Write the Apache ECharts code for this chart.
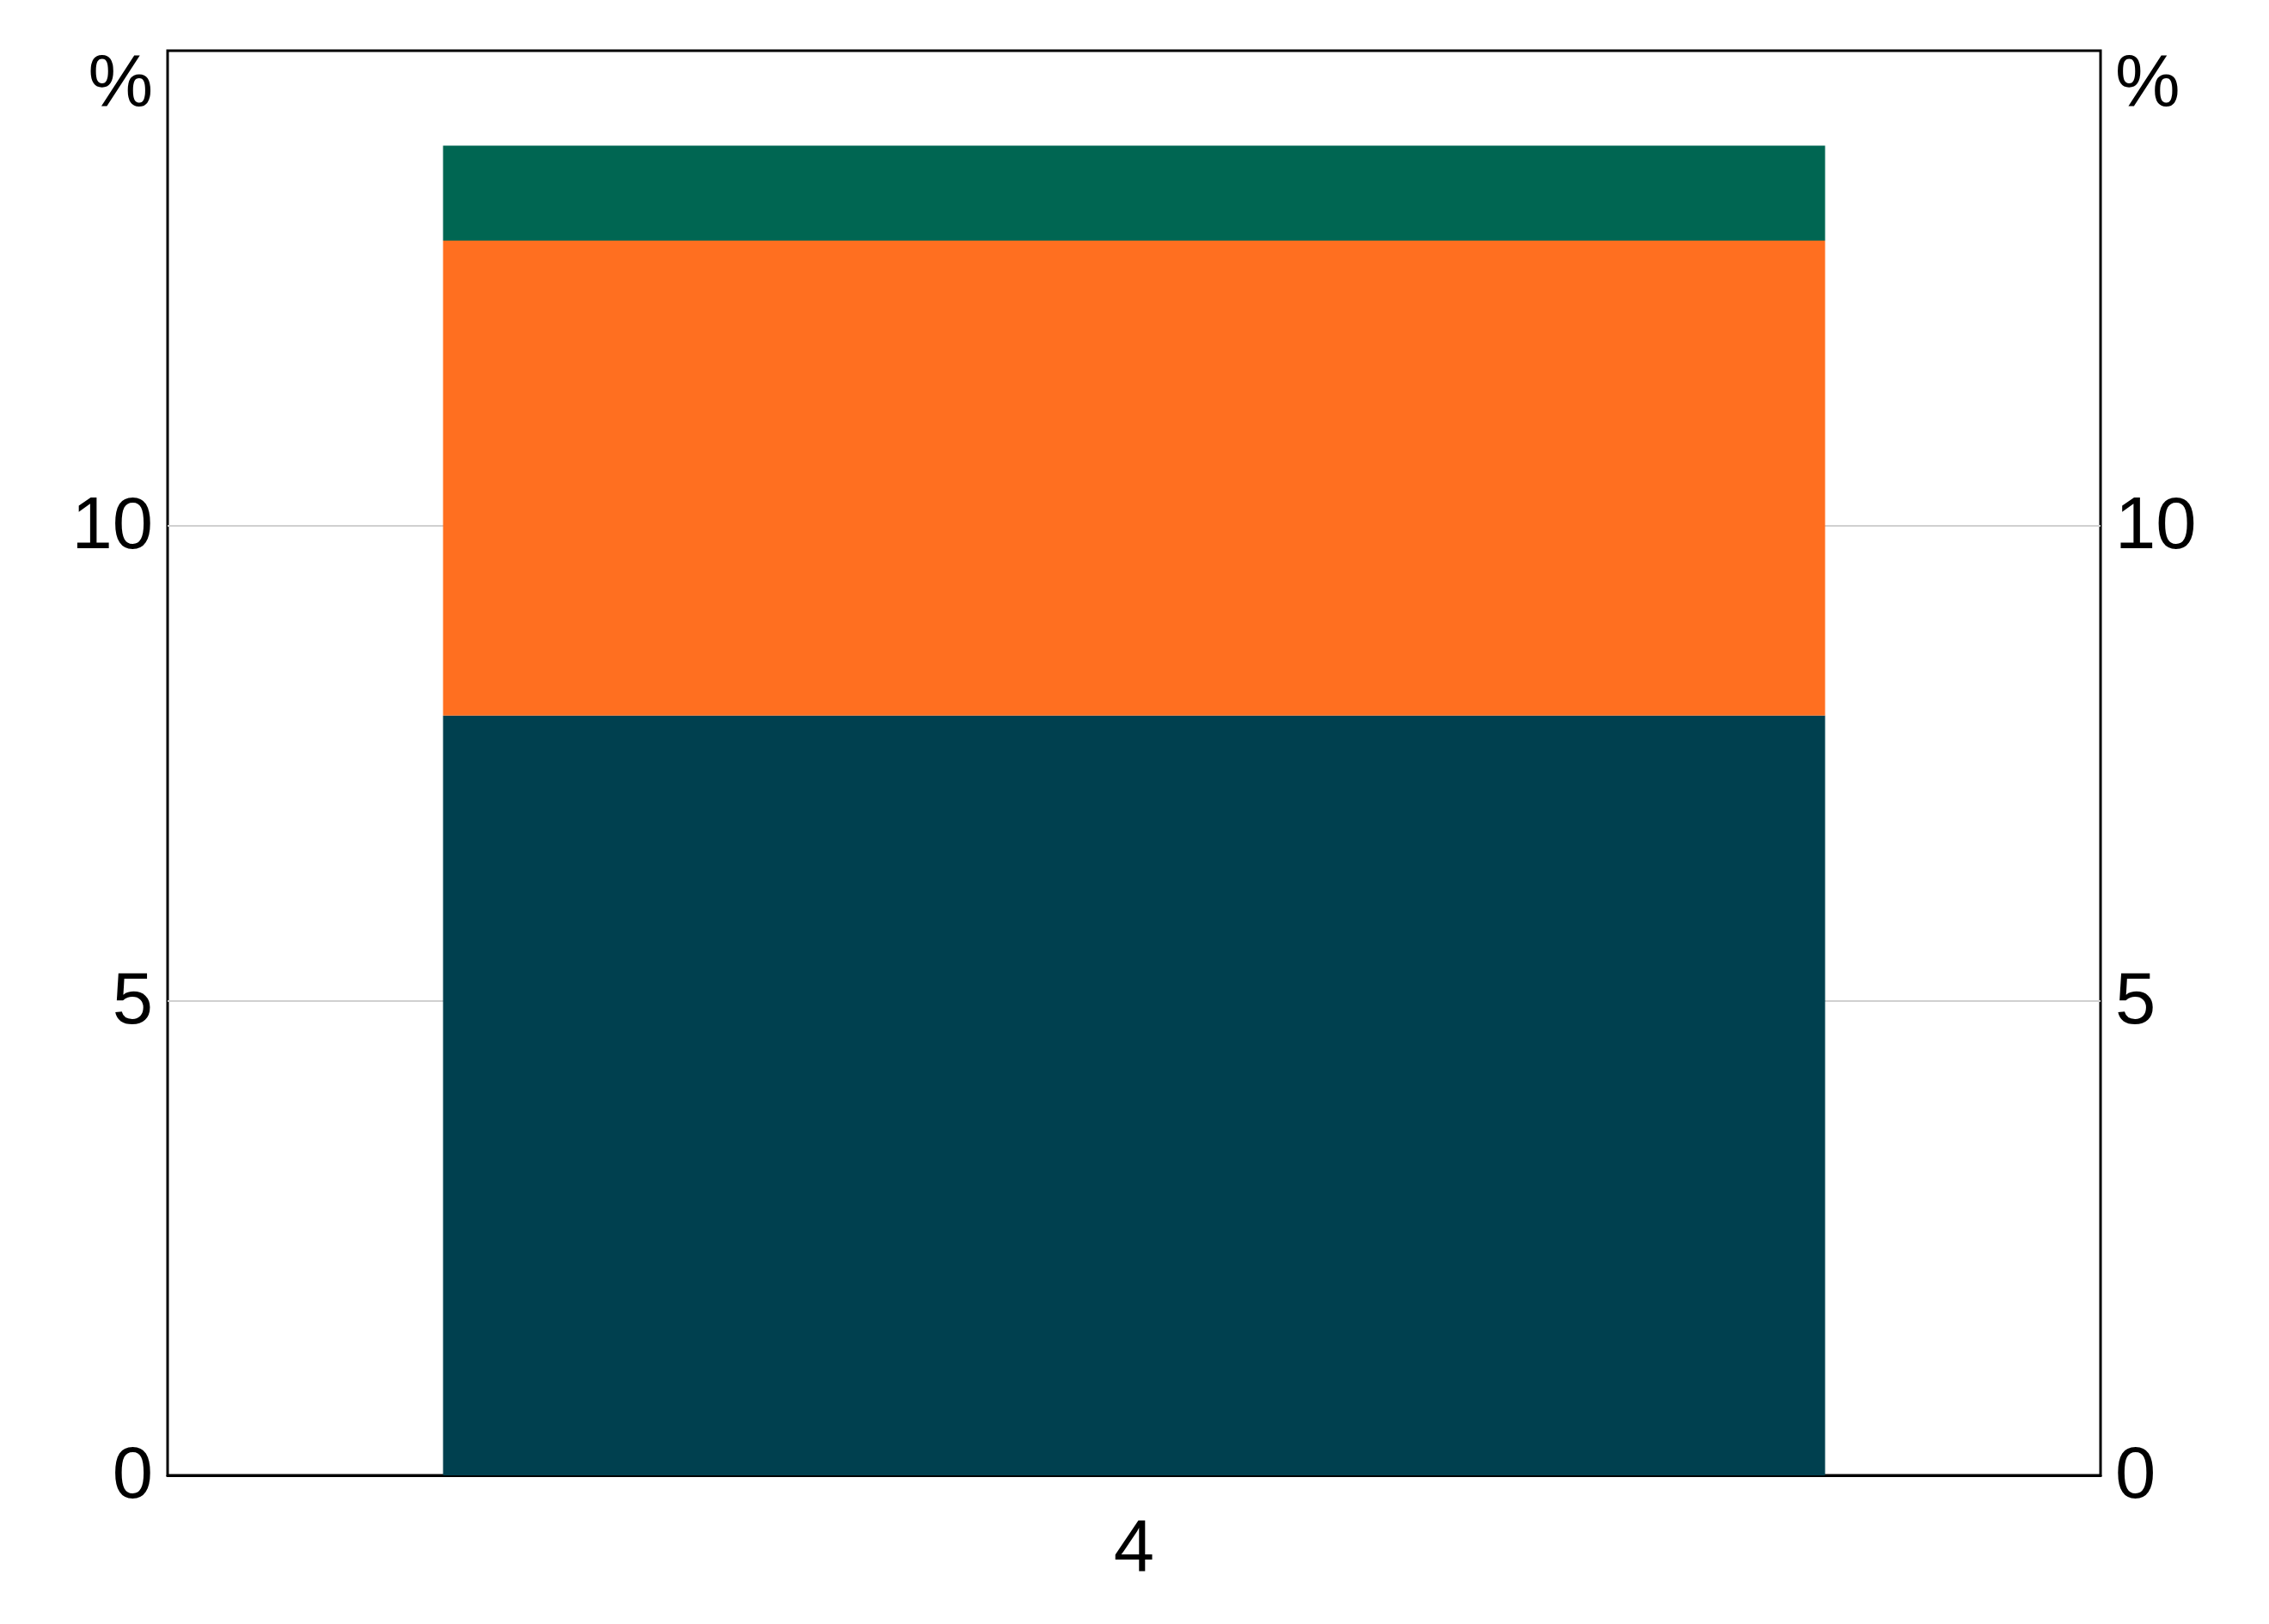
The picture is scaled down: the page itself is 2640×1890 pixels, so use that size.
<!DOCTYPE html>
<html>
<head>
<meta charset="utf-8">
<script src="https://cdn.jsdelivr.net/npm/echarts@6/dist/echarts.min.js"></script>
<style>html,body{margin:0;padding:0;background:#fff;}#c{width:2640px;height:1890px;}</style>
</head>
<body>
<div id="c"></div>
<script>
const categories = ['4'];
const seriesBottom = [8];
const seriesMiddle = [5];
const seriesTop = [1];
const yTicks = [0, 5, 10, 15];

const chart = echarts.init(document.getElementById('c'), null, {renderer: 'canvas'});
const fontFamily = '"Liberation Sans", Arial, sans-serif';
const fontSize = 85;
function yLabel(v) {
  return v === 15 ? '{p|%}' : '{n|' + v + '}';
}
const rich = {
  p: { fontSize: fontSize, fontFamily: fontFamily, color: '#000', padding: [84, 0, 0, 0] },
  n: { fontSize: fontSize, fontFamily: fontFamily, color: '#000', padding: [6, 0, 0, 0] }
};
const yAxisBase = {
  type: 'value', min: 0, max: 15, interval: 5,
  axisLine: { show: false }, axisTick: { show: false },
  splitLine: { show: true, showMinLine: false, showMaxLine: false, lineStyle: { color: '#d0d0d0', width: 2 } },
  axisLabel: { fontSize: fontSize, fontFamily: fontFamily, color: '#000', margin: 17, formatter: yLabel, rich: rich }
};
chart.setOption({
  animation: false,
  backgroundColor: '#fff',
  grid: { left: 195, right: 196, top: 59, bottom: 173, show: true, borderColor: '#000', borderWidth: 3, backgroundColor: 'transparent' },
  xAxis: {
    type: 'category', data: categories,
    axisLine: { show: true, lineStyle: { color: '#000', width: 3 } },
    axisTick: { show: false },
    axisLabel: { fontSize: fontSize, fontFamily: fontFamily, color: '#000', margin: 45 }
  },
  yAxis: [
    Object.assign({}, yAxisBase, { position: 'left' }),
    Object.assign({}, yAxisBase, { position: 'right', splitLine: { show: false } })
  ],
  series: [
    { type: 'bar', stack: 's', data: seriesBottom, barWidth: '71.5%', itemStyle: { color: '#00404F' } },
    { type: 'bar', stack: 's', data: seriesMiddle, barWidth: '71.5%', itemStyle: { color: '#FF6F20' } },
    { type: 'bar', stack: 's', data: seriesTop, barWidth: '71.5%', itemStyle: { color: '#006652' } }
  ]
});
</script>
</body>
</html>
